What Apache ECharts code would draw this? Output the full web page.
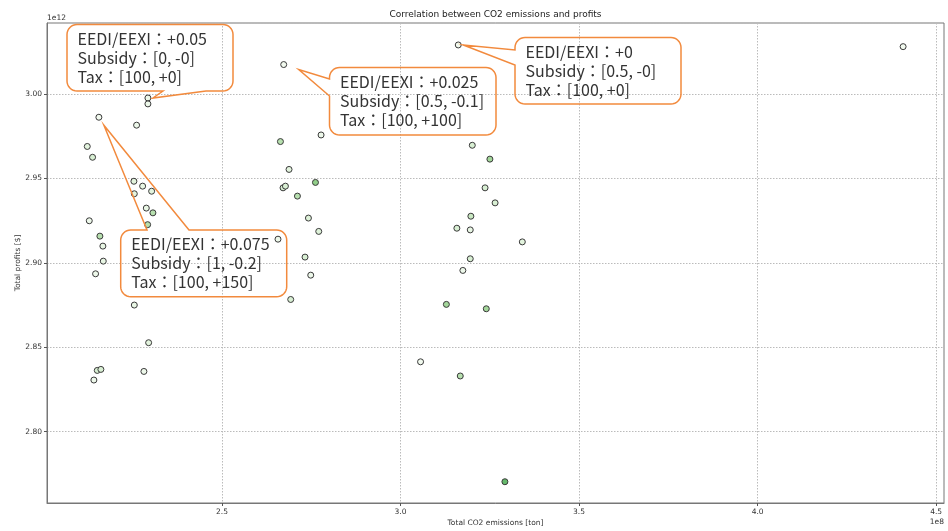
<!DOCTYPE html>
<html>
<head>
<meta charset="utf-8">
<script src="https://cdn.jsdelivr.net/npm/echarts@6/dist/echarts.min.js"></script>
<style>
  html, body { margin: 0; padding: 0; background: #fff; }
  #chart { width: 948px; height: 531px; }
</style>
</head>
<body>
<div id="chart"></div>
<script>
// Total CO2 emissions of each simulation run (units of 1e8 ton)
const co2 = [
  2.2926, 2.2926, 2.1553, 2.2609, 2.1228, 2.1376, 2.2534, 2.2778, 2.3030, 2.2545,
  2.2881, 2.3066, 2.2918, 2.1284, 2.1581, 2.1665, 2.1676, 2.1460, 2.2545, 2.2946,
  2.1508, 2.1609, 2.1413, 2.2814,
  2.6729, 2.7775, 2.6637, 2.6878, 2.7618, 2.6710, 2.6777, 2.7113, 2.7421, 2.7710,
  2.6569, 2.7326, 2.7486, 2.6925,
  3.1617, 3.2010, 3.2503, 3.2368, 3.2649, 3.1970, 3.1578, 3.1953, 3.3411, 3.1953,
  3.1746, 3.1284, 3.2402, 3.0561, 3.1673, 3.2923,
  4.4075
];
// Total profits of each simulation run (units of 1e12 $)
const profit = [
  2.9976, 2.9941, 2.9862, 2.9815, 2.9689, 2.9625, 2.9483, 2.9454, 2.9424, 2.9409,
  2.9324, 2.9296, 2.9226, 2.9249, 2.9158, 2.9099, 2.9010, 2.8935, 2.8750, 2.8527,
  2.8363, 2.8369, 2.8306, 2.8357,
  3.0174, 2.9757, 2.9718, 2.9553, 2.9476, 2.9444, 2.9454, 2.9395, 2.9265, 2.9186,
  2.9140, 2.9034, 2.8927, 2.8783,
  3.0290, 2.9696, 2.9614, 2.9444, 2.9355, 2.9276, 2.9205, 2.9195, 2.9124, 2.9024,
  2.8955, 2.8754, 2.8728, 2.8414, 2.8330, 2.7704,
  3.0280
];
// Marker colour level of each run (0 = white, 1 = deep green)
const shade = [
  0.10, 0.10, 0.05, 0.10, 0.20, 0.30, 0.20, 0.15, 0.20, 0.20,
  0.15, 0.50, 0.50, 0.10, 0.50, 0.15, 0.15, 0.10, 0.15, 0.20,
  0.30, 0.30, 0.10, 0.10,
  0.05, 0.10, 0.50, 0.20, 0.70, 0.30, 0.30, 0.50, 0.25, 0.25,
  0.10, 0.30, 0.10, 0.30,
  0.05, 0.30, 0.60, 0.30, 0.30, 0.40, 0.30, 0.15, 0.20, 0.30,
  0.10, 0.60, 0.60, 0.05, 0.50, 0.90,
  0.05
];

// Policy scenario annotations and the run each one points at
const eedi    = ['+0.05', '+0.025', '+0', '+0.075'];
const subsidy = ['[0, -0]', '[0.5, -0.1]', '[0.5, -0]', '[1, -0.2]'];
const tax     = ['[100, +0]', '[100, +100]', '[100, +0]', '[100, +150]'];
const calloutRun = [0, 24, 38, 2];

const AXIS_FONT = '"DejaVu Sans", sans-serif';
const NOTE_FONT = '"Noto Sans CJK JP", "Noto Sans", sans-serif';
const FRAME = '#777';
const ORANGE = '#f28a3d';

const chart = echarts.init(document.getElementById('chart'), null, { renderer: 'canvas' });

chart.setOption({
  animation: false,
  backgroundColor: '#fff',
  grid: {
    left: 47, right: 4, top: 23, bottom: 28,
    show: true, borderColor: FRAME, borderWidth: 1,
    containLabel: false, outerBoundsMode: 'none'
  },
  xAxis: {
    type: 'value',
    min: 2.010, max: 4.522,
    name: 'Total CO2 emissions [ton]',
    nameLocation: 'middle', nameGap: 16, nameMoveOverlap: false,
    nameTextStyle: { fontFamily: AXIS_FONT, fontSize: 7.5, color: '#333' },
    axisLine: { show: true, lineStyle: { color: FRAME, width: 1 } },
    axisTick: { show: true, length: 3, lineStyle: { color: '#555' } },
    axisLabel: {
      fontFamily: AXIS_FONT, fontSize: 7.5, color: '#333', margin: 5,
      showMinLabel: false, showMaxLabel: false,
      formatter: v => v.toFixed(1)
    },
    splitLine: { show: true, lineStyle: { color: '#bbb', type: [1.5, 1.5], width: 1 } }
  },
  yAxis: {
    type: 'value',
    min: 2.7578, max: 3.042,
    name: 'Total profits [$]',
    nameLocation: 'middle', nameGap: 25, nameRotate: 90, nameMoveOverlap: false,
    nameTextStyle: { fontFamily: AXIS_FONT, fontSize: 7.5, color: '#333' },
    axisLine: { show: true, lineStyle: { color: FRAME, width: 1 } },
    axisTick: { show: true, length: 3, lineStyle: { color: '#555' } },
    axisLabel: {
      fontFamily: AXIS_FONT, fontSize: 7.5, color: '#333', margin: 5,
      showMinLabel: false, showMaxLabel: false,
      formatter: v => v.toFixed(2)
    },
    splitLine: { show: true, lineStyle: { color: '#bbb', type: [1.5, 1.5], width: 1 } }
  },
  visualMap: {
    show: false, type: 'continuous', seriesIndex: 0, dimension: 2,
    min: 0, max: 1,
    inRange: { color: ['#f7fcf5', '#d5eecf', '#98d18e', '#4fae5c'] }
  },
  series: [{
    type: 'scatter',
    symbol: 'circle',
    symbolSize: 6,
    itemStyle: { borderColor: '#3a3a3a', borderWidth: 1, opacity: 1 },
    data: co2.map((x, i) => [x, profit[i], shade[i]])
  }]
});

// Rounded speech-bubble outline with a pointed tail on one side
function bubble(b, side, s1, s2, tip) {
  const r = 10, x0 = b.x, y0 = b.y, x1 = b.x + b.w, y1 = b.y + b.h;
  const pts = [];
  const arc = (cx, cy, a0, a1) => {
    for (let k = 0; k <= 8; k++) {
      const a = (a0 + (a1 - a0) * k / 8) * Math.PI / 180;
      pts.push([cx + r * Math.cos(a), cy + r * Math.sin(a)]);
    }
  };
  if (side === 'top') pts.push([s1, y0], tip, [s2, y0]);
  arc(x1 - r, y0 + r, -90, 0);
  arc(x1 - r, y1 - r, 0, 90);
  if (side === 'bottom') pts.push([s2, y1], tip, [s1, y1]);
  arc(x0 + r, y1 - r, 90, 180);
  if (side === 'left') pts.push([x0, s2], tip, [x0, s1]);
  arc(x0 + r, y0 + r, 180, 270);
  return pts;
}

// Box placement of each annotation, and tail attachment on its side
const layout = [
  { box: { x: 67,    y: 24.5, w: 166,   h: 66.5 }, side: 'bottom', s1: 163, s2: 206, off: [5, 0] },
  { box: { x: 329.5, y: 67.5, w: 166.5, h: 67.5 }, side: 'left',   s1: 79,  s2: 96,  off: [15, 5] },
  { box: { x: 515,   y: 37.5, w: 166,   h: 66.5 }, side: 'left',   s1: 50,  s2: 65,  off: [5, 0] },
  { box: { x: 120.7, y: 230,  w: 166,   h: 66.7 }, side: 'top',    s1: 147, s2: 189, off: [5, 8] }
];

const graphics = [
  {
    type: 'text', x: 495.5, y: 15,
    style: {
      text: 'Correlation between CO2 emissions and profits',
      font: '9px ' + AXIS_FONT, fill: '#222',
      textAlign: 'center', textVerticalAlign: 'middle'
    }
  },
  {
    type: 'text', x: 47, y: 18.5,
    style: { text: '1e12', font: '7.5px ' + AXIS_FONT, fill: '#333', textAlign: 'left', textVerticalAlign: 'middle' }
  },
  {
    type: 'text', x: 944, y: 522,
    style: { text: '1e8', font: '7.5px ' + AXIS_FONT, fill: '#333', textAlign: 'right', textVerticalAlign: 'middle' }
  }
];

layout.forEach((l, i) => {
  const run = calloutRun[i];
  const p = chart.convertToPixel({ gridIndex: 0 }, [co2[run], profit[run]]);
  const tip = [p[0] + l.off[0], p[1] + l.off[1]];
  graphics.push({
    type: 'polygon',
    shape: { points: bubble(l.box, l.side, l.s1, l.s2, tip) },
    style: { fill: 'none', stroke: ORANGE, lineWidth: 1.5 },
    z: 10
  });
  graphics.push({
    type: 'text',
    x: l.box.x + 10.5, y: l.box.y + 5,
    style: {
      text: 'EEDI/EEXI：' + eedi[i] + '\nSubsidy：' + subsidy[i] + '\nTax：' + tax[i],
      font: '16px ' + NOTE_FONT, lineHeight: 18.8, fill: '#333',
      textAlign: 'left', textVerticalAlign: 'top'
    },
    z: 11
  });
});

chart.setOption({ graphic: graphics });
</script>
</body>
</html>
